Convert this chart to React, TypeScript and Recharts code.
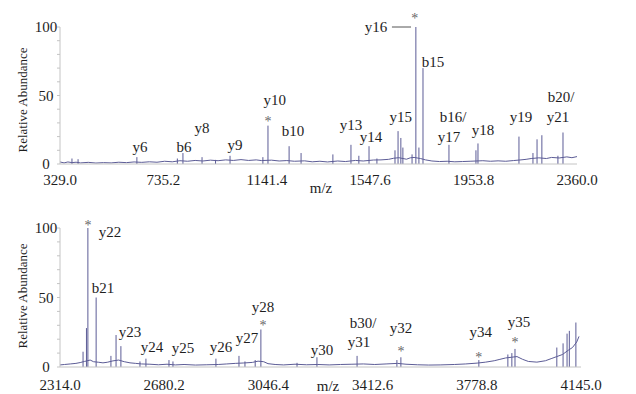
import { ComposedChart, Line, XAxis, YAxis, ReferenceLine, ReferenceDot } from "recharts";

const INK = "#5c5c96";
const FONT = "'Liberation Serif', 'DejaVu Serif', serif";
const TEXT = "#1e1e1e";

// ---- upper spectrum (m/z 329.0 - 2360.0, 1.0E+4) ----
const topTicks = [329.0, 735.2, 1141.4, 1547.6, 1953.8, 2360.0];
const topTraceMz = [
    329, 345, 360, 376, 392, 410, 440, 470, 500, 530, 560, 590, 620, 650, 680, 710, 740, 770, 800, 830,
    860, 890, 920, 950, 980, 1010, 1040, 1070, 1100, 1120, 1160, 1190, 1220, 1250, 1290, 1320, 1350, 1380,
    1420, 1450, 1490, 1520, 1560, 1590, 1620, 1640, 1660, 1690, 1705, 1720, 1745, 1765, 1790, 1820, 1850,
    1880, 1910, 1940, 1990, 2020, 2050, 2080, 2110, 2140, 2160, 2180, 2210, 2240, 2260, 2290, 2320, 2340, 2360,
];
const topTraceAbund = [
    1.5, 0.8, 1.5, 1.0, 1.3, 0.8, 1.2, 0.7, 1.0, 0.8, 1.3, 1.0, 1.5, 1.2, 1.6, 1.3, 2.0, 1.6, 2.4, 2.0,
    2.6, 2.2, 2.8, 2.4, 3.0, 2.6, 3.2, 2.6, 3.0, 2.5, 2.8, 2.2, 2.5, 2.0, 2.3, 1.6, 2.0, 1.5,
    2.2, 1.8, 2.6, 2.2, 2.9, 3.0, 3.4, 4.2, 4.6, 3.5, 4.5, 4.8, 4.0, 3.0, 2.2, 1.8, 2.0,
    1.6, 1.8, 2.0, 2.4, 2.0, 2.3, 2.0, 2.5, 3.0, 3.4, 4.0, 4.5, 4.0, 4.8, 4.4, 5.2, 4.6, 5.4,
];
const topPeakMz = [
    376, 400, 631, 790, 812, 887, 940, 997, 1126, 1146, 1229, 1276, 1401, 1472, 1503, 1543, 1574,
    1645, 1657, 1668, 1676, 1712, 1727, 1739, 1755, 1857, 1963, 1971, 2132, 2187, 2203, 2222, 2285, 2305,
];
const topPeakAbund = [
    4, 3.5, 5, 4, 8, 5, 3, 6, 5, 28, 13, 8, 7, 14, 6, 13, 4,
    10, 24, 19, 12, 7, 100, 12, 70, 14, 10, 15, 20, 8, 18, 21, 6, 23,
];
const topLabels: [string, number, number][] = [
    ["y6", 643, 12.4], ["b6", 816, 12.4], ["y8", 887, 26.3], ["y9", 1016, 13.9],
    ["y10", 1173, 46.7], ["b10", 1244, 24.1], ["y13", 1472, 28.5], ["y14", 1551, 19.7],
    ["y15", 1668, 34.3], ["y16", 1570, 100], ["b15", 1794, 74.5], ["b16/", 1873, 34.3],
    ["y17", 1857, 19.7], ["y18", 1991, 24.8], ["y19", 2140, 34.3], ["b20/", 2297, 48.9], ["y21", 2285, 34.3],
];
const topStars: [number, number][] = [[1146, 31.4], [1723, 106.6]];
const topLeader: [number, number, number] = [1633, 1708, 100];

// ---- lower spectrum (m/z 2314.0 - 4145.0, 2.5E+4) ----
const bottomTicks = [2314.0, 2680.2, 3046.4, 3412.6, 3778.8, 4145.0];
const bottomTraceMz = [
    2314, 2330, 2350, 2370, 2385, 2400, 2420, 2432, 2450, 2465, 2480, 2500, 2520, 2540, 2560, 2580, 2600,
    2630, 2660, 2690, 2720, 2750, 2790, 2830, 2870, 2900, 2930, 2960, 2990, 3010, 3030, 3045, 3070, 3100,
    3140, 3180, 3220, 3260, 3300, 3340, 3380, 3420, 3460, 3500, 3530, 3570, 3610, 3650, 3700, 3740, 3780,
    3810, 3840, 3860, 3880, 3900, 3920, 3940, 3960, 3990, 4020, 4040, 4060, 4080, 4100, 4115, 4130, 4138,
];
const bottomTraceAbund = [
    1.5, 1.8, 2.2, 2.6, 3.2, 4.0, 5.0, 3.8, 3.4, 3.0, 3.4, 4.4, 5.0, 3.8, 3.0, 2.6, 2.2,
    2.0, 1.6, 2.0, 1.5, 1.8, 1.4, 1.6, 1.8, 2.2, 2.6, 2.9, 3.3, 4.2, 3.8, 2.4, 1.8, 1.5,
    2.0, 1.6, 1.8, 1.5, 1.8, 2.0, 2.2, 1.8, 2.2, 2.6, 2.0, 1.6, 1.4, 1.5, 1.8, 2.2, 2.8,
    3.5, 4.5, 5.5, 6.5, 7.0, 7.5, 5.5, 4.0, 3.5, 4.5, 6.0, 7.5, 9.0, 12.0, 14.0, 18.0, 22.0,
];
const bottomPeakMz = [
    2395, 2407, 2412, 2441, 2493, 2511, 2528, 2595, 2616, 2697, 2711, 2862, 2943, 2964, 3000, 3020,
    3147, 3217, 3358, 3498, 3512, 3786, 3888, 3902, 3913, 4060, 4082, 4096, 4104, 4127,
];
const bottomPeakAbund = [
    11, 28, 100, 50, 8, 23, 15, 4, 6, 5, 4, 6, 8, 4, 5, 27,
    3, 7, 8, 5, 7, 5, 9, 10, 13, 14, 17, 24, 26, 32,
];
const bottomLabels: [string, number, number][] = [
    ["y22", 2490, 97.1], ["b21", 2465, 56.8], ["y23", 2560, 25.2], ["y24", 2637, 14.4],
    ["y25", 2746, 13.7], ["y26", 2880, 14.4], ["y27", 2971, 20.9], ["y28", 3027, 43.2],
    ["y30", 3235, 12.2], ["b30/", 3379, 31.7], ["y31", 3365, 18.0], ["y32", 3512, 28.1],
    ["y34", 3793, 25.2], ["y35", 3927, 32.4],
];
const bottomStars: [number, number][] = [[2412, 102.2], [3027, 30.2], [3512, 11.5], [3786, 7.2], [3913, 18.0]];

const leftTicks = [0, 10, 20, 30, 40, 50, 60, 70, 80, 90, 100];

function LeftTick(props: any) {
    const { x, y, payload } = props;
    if (![0, 50, 100].includes(payload.value)) return null;
    return (
        <text x={x - 9} y={y} dy="0.35em" textAnchor="middle" fontFamily={FONT} fontSize={15} fill={TEXT}>
            {payload.value}
        </text>
    );
}

const word = (text: string, size: number, color: string) => (p: any) => (
    <text x={p.cx} y={p.cy} dy="0.35em" textAnchor="middle" fontFamily={FONT} fontSize={size} fill={color}>
        {text}
    </text>
);

interface SpectrumProps {
    height: number;
    marginTop: number;
    marginRight: number;
    axisHeight: number;
    tickMargin: number;
    domain: [number, number];
    ticks: number[];
    scaleText: string;
    traceMz: number[];
    traceAbund: number[];
    peakMz: number[];
    peakAbund: number[];
    labels: [string, number, number][];
    stars: [number, number][];
    leader?: [number, number, number];
}

function Spectrum(p: SpectrumProps) {
    const data = p.traceMz.map((mz, i) => ({ mz, v: p.traceAbund[i] }));
    return (
        <ComposedChart
            width={636}
            height={p.height}
            data={data}
            margin={{ top: p.marginTop, right: p.marginRight, bottom: 0, left: 0 }}
            style={{ fontFamily: FONT }}
        >
            <XAxis
                dataKey="mz"
                type="number"
                domain={p.domain}
                ticks={p.ticks}
                interval={0}
                height={p.axisHeight}
                tickLine={false}
                tickMargin={p.tickMargin}
                axisLine={{ stroke: "#c4c4c4" }}
                tick={{ fill: TEXT, fontSize: 15, fontFamily: FONT }}
                tickFormatter={(v) => v.toFixed(1)}
            />
            <YAxis
                yAxisId="left"
                width={60}
                domain={[0, 100]}
                ticks={leftTicks}
                interval={0}
                tickSize={3}
                tickMargin={2}
                axisLine={{ stroke: "#c4c4c4" }}
                tickLine={{ stroke: "#c4c4c4" }}
                tick={<LeftTick />}
            />
            <YAxis
                yAxisId="right"
                orientation="right"
                width={0}
                domain={[0, 100]}
                ticks={[100]}
                tickLine={false}
                tickMargin={1}
                axisLine={{ stroke: "#9a9a9a" }}
                tick={{ fill: TEXT, fontSize: 15, fontFamily: FONT, textAnchor: "start" }}
                tickFormatter={() => p.scaleText}
            />
            <Line
                yAxisId="left"
                dataKey="v"
                type="linear"
                stroke={INK}
                strokeWidth={1}
                dot={false}
                isAnimationActive={false}
            />
            {p.peakMz.map((mz, i) => (
                <ReferenceLine
                    key={`pk-${i}`}
                    yAxisId="left"
                    segment={[{ x: mz, y: 0 }, { x: mz, y: p.peakAbund[i] }]}
                    stroke={INK}
                    strokeWidth={1}
                />
            ))}
            {p.leader && (
                <ReferenceLine
                    yAxisId="left"
                    segment={[{ x: p.leader[0], y: p.leader[2] }, { x: p.leader[1], y: p.leader[2] }]}
                    stroke="#555"
                    strokeWidth={1}
                />
            )}
            {p.labels.map(([t, mz, a]) => (
                <ReferenceDot key={`lb-${t}-${mz}`} yAxisId="left" x={mz} y={a} r={0} ifOverflow="visible" shape={word(t, 15, TEXT)} />
            ))}
            {p.stars.map(([mz, a], i) => (
                <ReferenceDot key={`st-${i}`} yAxisId="left" x={mz} y={a} r={0} ifOverflow="visible" shape={word("*", 14, "#666")} />
            ))}
        </ComposedChart>
    );
}

const overlay = { position: "absolute" as const, fontFamily: FONT, color: TEXT, whiteSpace: "nowrap" as const, lineHeight: 1 };

export default function App() {
    return (
        <div style={{ position: "absolute", left: 0, top: 0, width: 636, height: 394, background: "#fff", overflow: "hidden", fontFamily: FONT }}>
            <div style={{ position: "absolute", left: 0, top: 0 }}>
                <Spectrum
                    height={196}
                    marginTop={27}
                    marginRight={59}
                    axisHeight={32}
                    tickMargin={4}
                    domain={[329, 2360]}
                    ticks={topTicks}
                    scaleText="1.0E+4"
                    traceMz={topTraceMz}
                    traceAbund={topTraceAbund}
                    peakMz={topPeakMz}
                    peakAbund={topPeakAbund}
                    labels={topLabels}
                    stars={topStars}
                    leader={topLeader}
                />
            </div>
            <div style={{ position: "absolute", left: 0, top: 196 }}>
                <Spectrum
                    height={198}
                    marginTop={32}
                    marginRight={55}
                    axisHeight={27}
                    tickMargin={6}
                    domain={[2314, 4145]}
                    ticks={bottomTicks}
                    scaleText="2.5E+4"
                    traceMz={bottomTraceMz}
                    traceAbund={bottomTraceAbund}
                    peakMz={bottomPeakMz}
                    peakAbund={bottomPeakAbund}
                    labels={bottomLabels}
                    stars={bottomStars}
                />
            </div>
            <div style={{ ...overlay, fontSize: 13, left: 22, top: 100, transform: "translate(-50%, -50%) rotate(-90deg)" }}>
                Relative Abundance
            </div>
            <div style={{ ...overlay, fontSize: 13, left: 22, top: 296, transform: "translate(-50%, -50%) rotate(-90deg)" }}>
                Relative Abundance
            </div>
            <div style={{ ...overlay, fontSize: 15, left: 321, top: 188, transform: "translate(-50%, -50%)" }}>m/z</div>
            <div style={{ ...overlay, fontSize: 15, left: 328, top: 386, transform: "translate(-50%, -50%)" }}>m/z</div>
        </div>
    );
}
